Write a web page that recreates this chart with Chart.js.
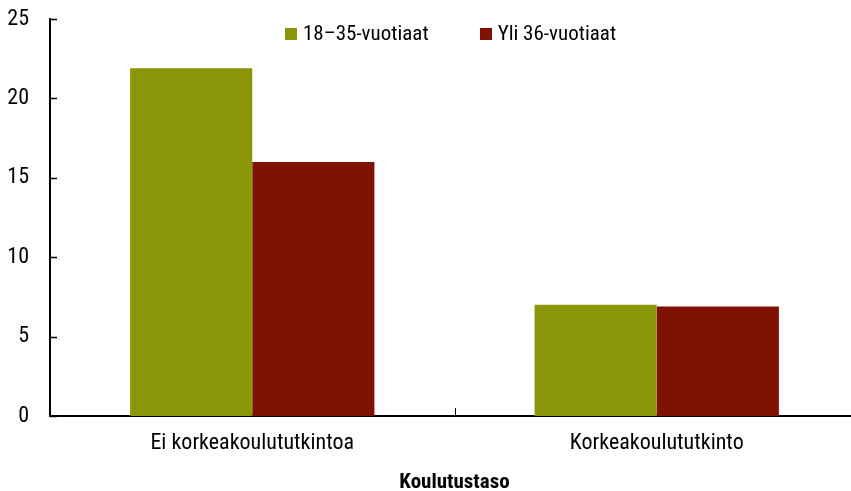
<!DOCTYPE html>
<html>
<head>
<meta charset="utf-8">
<script src="https://cdn.jsdelivr.net/npm/chart.js@4.4.1/dist/chart.umd.min.js"></script>
<style>
  html, body { margin: 0; padding: 0; overflow: hidden; background: #fff; }
  #wrap { width: 860px; height: 491px; }
</style>
</head>
<body>
<div id="wrap"><canvas id="c" width="860" height="491"></canvas></div>
<script>
const categories = ['Ei korkeakoulututkintoa', 'Korkeakoulututkinto'];
const seriesNames = ['18–35-vuotiaat', 'Yli 36-vuotiaat'];
const young = [21.9, 7.0];
const older = [16.0, 6.9];
const seriesColors = ['#8A9608', '#7F1200'];
const yTicks = [0, 5, 10, 15, 20, 25];
const xTitle = 'Koulutustaso';

const FONT = "'Roboto Condensed', 'Open Sans', sans-serif";

const innerTicks = {
  id: 'innerTicks',
  afterDraw(chart) {
    const ctx = chart.ctx;
    const y = chart.scales.y, x = chart.scales.x;
    ctx.save();
    ctx.strokeStyle = '#000';
    ctx.lineWidth = 1.5;
    yTicks.forEach(v => {
      const py = Math.round(y.getPixelForValue(v)) + 0.5;
      ctx.beginPath();
      ctx.moveTo(x.left, py);
      ctx.lineTo(x.left + 7, py);
      ctx.stroke();
    });
    ctx.lineWidth = 1;
    for (let i = 1; i < categories.length; i++) {
      const px = Math.round((x.getPixelForValue(i - 1) + x.getPixelForValue(i)) / 2) + 0.5;
      ctx.beginPath();
      ctx.moveTo(px, y.bottom);
      ctx.lineTo(px, y.bottom - 8);
      ctx.stroke();
    }
    ctx.restore();
  }
};

const innerLegend = {
  id: 'innerLegend',
  afterDraw(chart) {
    const ctx = chart.ctx;
    const area = chart.chartArea;
    const box = 12, gap = 6, spacing = 51;
    ctx.save();
    ctx.font = "21px " + FONT;
    ctx.textBaseline = 'middle';
    ctx.textAlign = 'left';
    const items = chart.data.datasets.map(d => ({ label: d.label, color: d.backgroundColor, w: ctx.measureText(d.label).width }));
    let total = 0;
    items.forEach((it, i) => { total += box + gap + it.w + (i < items.length - 1 ? spacing : 0); });
    let xx = (area.left + area.right) / 2 - total / 2 - 4;
    const cy = area.top + 15;
    items.forEach(it => {
      ctx.fillStyle = it.color;
      ctx.fillRect(Math.round(xx), Math.round(cy - box / 2), box, box);
      ctx.fillStyle = '#000';
      ctx.fillText(it.label, xx + box + gap, cy + 1);
      xx += box + gap + it.w + spacing;
    });
    ctx.restore();
  }
};

new Chart(document.getElementById('c'), {
  type: 'bar',
  data: {
    labels: categories,
    datasets: [
      { label: seriesNames[0], data: young, backgroundColor: seriesColors[0], borderWidth: 0 },
      { label: seriesNames[1], data: older, backgroundColor: seriesColors[1], borderWidth: 0 }
    ]
  },
  options: {
    responsive: false,
    animation: false,
    layout: { autoPadding: false, padding: { top: 19, right: 1, left: 0, bottom: 0 } },
    datasets: { bar: { categoryPercentage: 0.604, barPercentage: 1.0 } },
    plugins: {
      legend: { display: false },
      tooltip: { enabled: false }
    },
    scales: {
      x: {
        grid: { display: false, drawTicks: false },
        border: { color: '#000', width: 2 },
        ticks: { font: { family: FONT, size: 22 }, color: '#000', padding: 14 },
        title: { display: true, text: xTitle, font: { family: FONT, size: 21, weight: 'bold', lineHeight: 1.0 }, color: '#000', padding: { top: 20, bottom: -2 } },
        afterFit(s) { s.height = 75; }
      },
      y: {
        min: 0, max: 25,
        afterBuildTicks(s) { s.ticks = yTicks.map(v => ({ value: v })); },
        grid: { display: false, drawTicks: false },
        border: { color: '#000', width: 2 },
        ticks: { font: { family: FONT, size: 22 }, color: '#000', padding: 21 },
        afterFit(s) { s.width = 50; s.paddingTop = 0; s.paddingBottom = 0; }
      }
    }
  },
  plugins: [innerTicks, innerLegend]
});
</script>
</body>
</html>
